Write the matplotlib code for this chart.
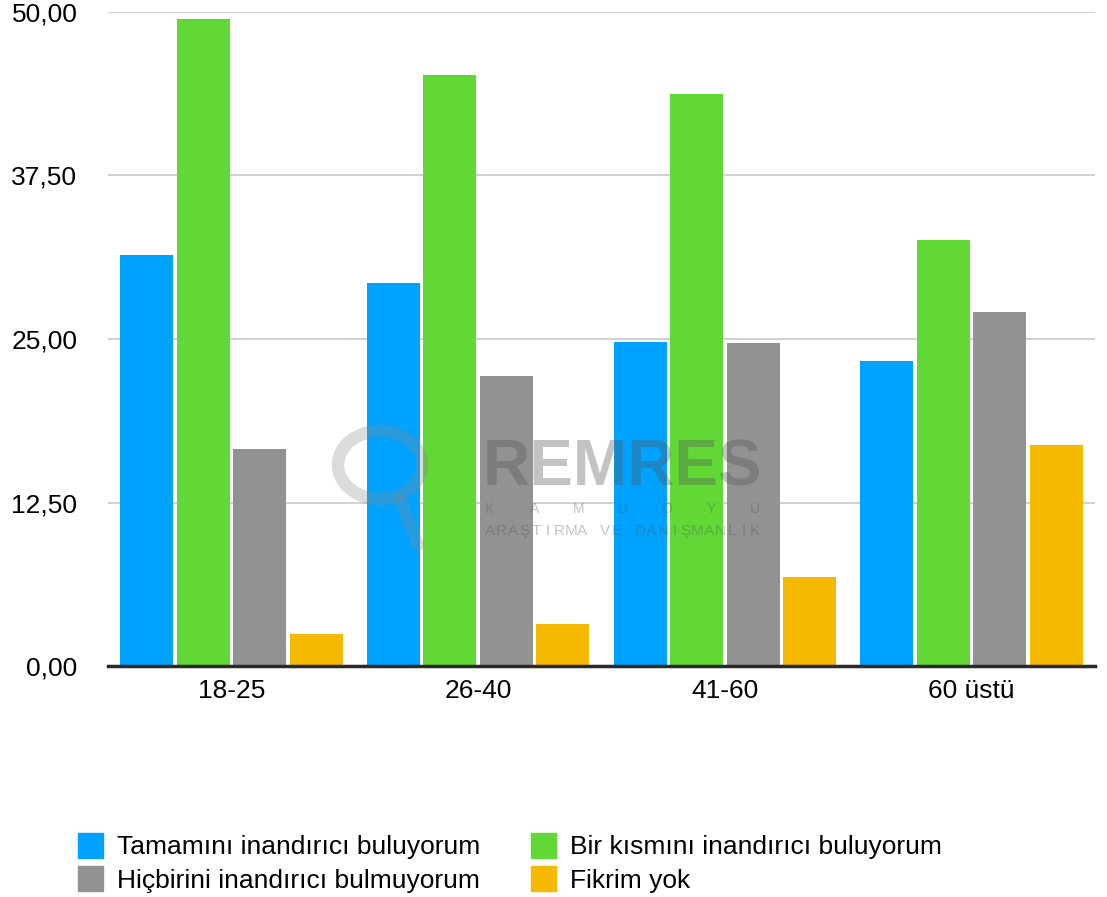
import matplotlib
matplotlib.use("Agg")
import matplotlib.pyplot as plt
import numpy as np
from matplotlib.patches import Patch

categories = ["18-25", "26-40", "41-60", "60 üstü"]
series_names = ["Tamamını inandırıcı buluyorum", "Bir kısmını inandırıcı buluyorum",
                "Hiçbirini inandırıcı bulmuyorum", "Fikrim yok"]
tamamini = [31.4, 29.3, 24.8, 23.3]
bir_kismini = [49.5, 45.2, 43.7, 32.6]
hicbirini = [16.6, 22.2, 24.7, 27.1]
fikrim_yok = [2.45, 3.2, 6.8, 16.9]
yticks = [0, 12.5, 25, 37.5, 50]
ytick_labels = ["0,00", "12,50", "25,00", "37,50", "50,00"]

colors = ["#00A2FF", "#61D836", "#929292", "#F5B900"]
values = [tamamini, bir_kismini, hicbirini, fikrim_yok]

plt.rcParams['font.family'] = ['Liberation Sans', 'DejaVu Sans']

W, H = 1107, 897
fig = plt.figure(figsize=(W / 100, H / 100), dpi=100)
ax = fig.add_axes([108 / W, (H - 666) / H, 987 / W, 654 / H])

x = np.arange(len(categories))
slot = 0.229
bw = 0.214
for i, (vals, c) in enumerate(zip(values, colors)):
    ax.bar(x + (i - 1.5) * slot, vals, width=bw, color=c, zorder=2, label=series_names[i])

ax.set_xlim(-0.5, len(categories) - 0.5)
ax.set_ylim(0, 50)
ax.set_yticks(yticks)
ax.set_yticklabels(ytick_labels, fontsize=19)
ax.set_xticks(x)
ax.set_xticklabels(categories, fontsize=19)
ax.tick_params(axis='y', length=0, pad=22)
ax.tick_params(axis='x', length=0, pad=9)
ax.yaxis.grid(True, color="#C8C8C8", linewidth=1.2, zorder=0)
ax.set_axisbelow(True)
for s in ["top", "right", "left"]:
    ax.spines[s].set_visible(False)
ax.spines["bottom"].set_color("#2a2a2a")
ax.spines["bottom"].set_linewidth(2.5)
ax.spines["bottom"].set_zorder(3)

# watermark
wm = dict(color="#555555", alpha=0.35, zorder=10)
fig.text(622 / W, 1 - 468 / H, "REMRES", fontsize=47, ha="center", va="center",
         fontweight="bold", **wm)
kam = "KAMUOYU"
for j, ch in enumerate(kam):
    xp = 490 + j * (265 / (len(kam) - 1))
    fig.text(xp / W, 1 - 509 / H, ch, fontsize=10, ha="center", va="center", **wm)
ara = "ARAŞTIRMA VE DANIŞMANLIK"
for j, ch in enumerate(ara):
    xp = 490 + j * (265 / (len(ara) - 1))
    if ch != " ":
        fig.text(xp / W, 1 - 531 / H, ch, fontsize=11, ha="center", va="center", **wm)
circ = plt.Circle((380 / W, 1 - 465 / H), 42 / W, transform=fig.transFigure,
                  fill=False, lw=9, color="#888888", alpha=0.3, zorder=10)
fig.add_artist(circ)
fig.add_artist(plt.Line2D([400 / W, 418 / W], [1 - 500 / H, 1 - 545 / H],
                          transform=fig.transFigure, lw=9, color="#888888", alpha=0.3,
                          solid_capstyle="round", zorder=10))

handles = [Patch(color=colors[0]), Patch(color=colors[2]), Patch(color=colors[1]), Patch(color=colors[3])]
labels = [series_names[0], series_names[2], series_names[1], series_names[3]]
fig.legend(handles, labels, ncol=2, loc="upper left", bbox_to_anchor=(54 / W, 1 - 809 / H),
           frameon=False, fontsize=19, handlelength=0.95, handleheight=1.1,
           handletextpad=0.55, columnspacing=1.9, labelspacing=0.25)

fig.savefig("out.png", dpi=100)
